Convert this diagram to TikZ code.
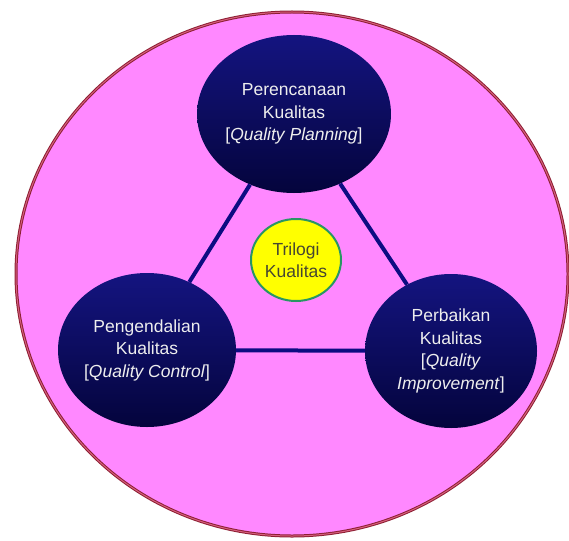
\documentclass[tikz,border=0pt]{standalone}
\usepackage{fontspec}
\setmainfont{Liberation Sans}
\usetikzlibrary{shapes.geometric}
\definecolor{pinkfill}{RGB}{255, 136, 255}
\definecolor{rimcolor}{RGB}{140, 30, 50}
\definecolor{rimlight}{RGB}{215, 95, 125}
\definecolor{navytop}{RGB}{20, 20, 128}
\definecolor{navybottom}{RGB}{4, 4, 60}
\definecolor{linkcolor}{RGB}{12, 12, 130}
\definecolor{textlight}{RGB}{238, 238, 238}
\definecolor{coreyellow}{RGB}{255, 255, 0}
\definecolor{coreborder}{RGB}{40, 150, 100}
\definecolor{coretext}{RGB}{70, 70, 50}
\tikzset{
labeltext/.style={
  align=center,
  font=\fontsize{17.5}{22.5}\selectfont
},
outerblock/.style={
  ellipse,
  draw=rimcolor,
  double=rimlight,
  double distance=1pt,
  line width=1pt,
  fill=pinkfill,
  minimum width=552pt,
  minimum height=524pt
},
pillarblock/.style={
  ellipse,
  inner sep=0pt,
  minimum width=172pt,
  minimum height=154pt,
  top color=navytop,
  bottom color=navybottom,
  text=textlight,
  labeltext
},
coreblock/.style={
  ellipse,
  inner sep=0pt,
  draw=coreborder,
  line width=2pt,
  fill=coreyellow,
  minimum width=90pt,
  minimum height=82pt,
  text=coretext,
  labeltext
},
link/.style={
  draw=linkcolor,
  line width=4pt
}
}
\begin{document}
\begin{tikzpicture}[x=1pt, y=-1pt]
  \useasboundingbox (0,0) rectangle (569,540);
  \node[outerblock] (frame) at (292,274) {};
  \node[pillarblock, minimum height=158pt] (planning) at (294,114) {Perencanaan\\Kualitas\\{[}\textit{Quality Planning}]};
  \node[pillarblock] (control) at (147,350) {Pengendalian\\Kualitas\\{[}\textit{Quality Control}]};
  \node[pillarblock] (improvement) at (451,351) {Perbaikan\\Kualitas\\{[}\textit{Quality}\\\textit{Improvement}]};
  \node[coreblock] (trilogi) at (296,260) {Trilogi\\Kualitas};
  \draw[link] (planning) -- (control);
  \draw[link] (planning) -- (improvement);
  \draw[link] (control) -- (improvement);
\end{tikzpicture}
\end{document}
